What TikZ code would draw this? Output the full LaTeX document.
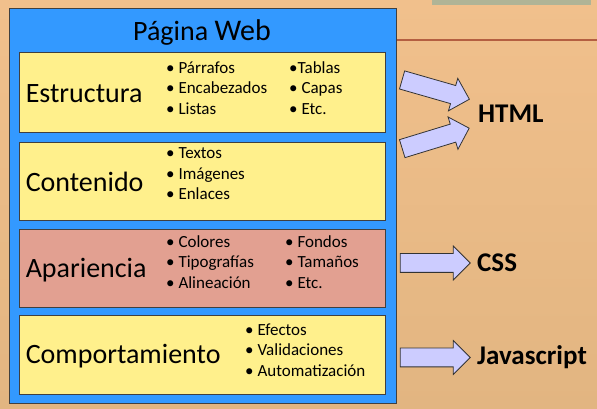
\documentclass[tikz,border=0pt]{standalone}
\usepackage{fontspec}
\setmainfont{Carlito}
\usepackage{tikz}
\usetikzlibrary{positioning,shapes.arrows}
\definecolor{pwbgtop}{RGB}{241,192,140}
\definecolor{pwbgbot}{RGB}{226,181,129}
\definecolor{pwblue}{RGB}{51,153,255}
\definecolor{pwyellow}{RGB}{255,240,140}
\definecolor{pwsalmon}{RGB}{226,160,145}
\definecolor{pwarrow}{RGB}{204,204,255}
\definecolor{pwgrey}{RGB}{176,180,150}
\definecolor{pwline}{RGB}{180,95,65}

\begin{document}
\begin{tikzpicture}[
  x=1pt, y=1pt,
  panel/.style={draw=black!75, line width=0.9pt, minimum width=366pt, inner sep=0pt},
  lbl/.style={font=\fontsize{28}{32}\selectfont, inner sep=0pt, anchor=west},
  items/.style={font=\fontsize{17}{20.5}\selectfont, align=left, inner sep=0pt, anchor=west},
  blockarr/.style={single arrow, draw=black!80, fill=pwarrow, line width=0.8pt,
                   inner xsep=0pt, inner ysep=9pt, minimum width=33pt, minimum height=70pt,
                   single arrow head extend=7.5pt},
  tech/.style={font=\fontsize{27}{30}\selectfont\bfseries, inner sep=0pt, anchor=west},
]
\useasboundingbox (0,0) rectangle (597,409);

% ============ Background ============
\shade[top color=pwbgtop, bottom color=pwbgbot] (0,0) rectangle (597,409);
\fill[pwgrey] (432,404) rectangle (591,409);
\fill[pwline] (395,368) rectangle (597,370);

% ============ Pagina Web frame ============
\node[draw=black!75, line width=0.9pt, fill=pwblue, minimum width=387pt, minimum height=395pt] (pagina) at (202.5,203.5) {};
\node[font=\fontsize{28}{30}\selectfont, inner sep=0pt] (titulo) at (202,377) {Página {\fontsize{30}{30}\selectfont Web}};

% ============ Panels ============
\node[panel, fill=pwyellow, minimum height=80pt] (estr) at (202,317) {};
\node[panel, fill=pwyellow, minimum height=78pt] (cont) at (202,228) {};
\node[panel, fill=pwsalmon, minimum height=78pt] (apar) at (202,141) {};
\node[panel, fill=pwyellow, minimum height=79pt] (comp) at (202,54.5) {};

% labels
\node[lbl] (lblestr) at ([xshift=7pt,yshift=-2pt]estr.west) {Estructura};
\node[lbl] (lblcont) at ([xshift=7pt,yshift=-1pt]cont.west) {Contenido};
\node[lbl] (lblapar) at ([xshift=7pt,yshift=-2pt]apar.west) {Apariencia};
\node[lbl] (lblcomp) at ([xshift=7pt,yshift=-2pt]comp.west) {Comportamiento};

% bullet lists
\node[items] (estrA) at (166,321) {• Párrafos\\• Encabezados\\• Listas};
\node[items] (estrB) at (289,321) {•Tablas\\• Capas\\• Etc.};
\node[items] (contA) at (166,235) {• Textos\\• Imágenes\\• Enlaces};
\node[items] (aparA) at (166,147) {• Colores\\• Tipografías\\• Alineación};
\node[items] (aparB) at (285,147) {• Fondos\\• Tamaños\\• Etc.};
\node[items] (compA) at (245,59) {• Efectos\\• Validaciones\\• Automatización};

% ============ Block arrows and targets ============
\node[blockarr, rotate=-16] (arrestr) at (431.2,320.7) {};
\node[blockarr, rotate=17] (arrcont) at (431.2,269.2) {};
\node[tech] (html) at (478,295) {HTML};

\node[blockarr] (arrapar) at (430.5,146) {};
\node[tech] (css) at (477,146) {CSS};

\node[blockarr] (arrcomp) at (430.5,51.5) {};
\node[tech] (js) at (477,52) {Javascript};

\end{tikzpicture}
\end{document}
